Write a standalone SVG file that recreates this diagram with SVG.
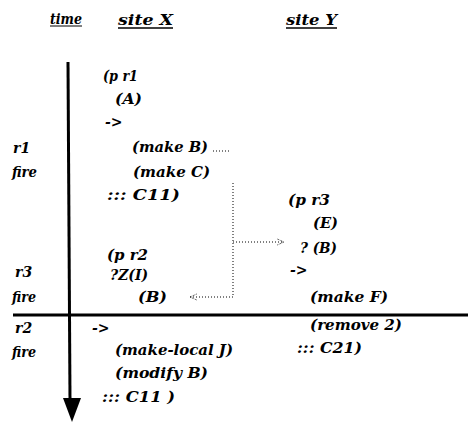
<svg xmlns="http://www.w3.org/2000/svg" width="468" height="424" viewBox="0 0 468 424" xml:space="preserve">
<style>
text{font-family:"DejaVu Serif","Liberation Serif",serif;font-weight:bold;font-style:italic;font-size:14px;fill:#000}
.hd{font-size:14px}
.dot{fill:none;stroke:#000;stroke-width:1;stroke-dasharray:1 2}
</style>
<defs>
<marker id="ah" viewBox="0 0 10 10" refX="9" refY="5" markerWidth="8" markerHeight="8" orient="auto-start-reverse" markerUnits="userSpaceOnUse">
<path d="M0,1 L9,5 L0,9" fill="none" stroke="#000" stroke-width="1" stroke-dasharray="1 1"/>
</marker>
</defs>
<rect width="468" height="424" fill="#fff"/>
<g id="headers">
<text class="hd" x="50" y="24" textLength="32" lengthAdjust="spacingAndGlyphs">time</text>
<line x1="50" y1="26" x2="82" y2="26" stroke="#000" stroke-width="1"/>
<text class="hd" x="118" y="25" textLength="55" lengthAdjust="spacingAndGlyphs">site  X</text>
<line x1="118" y1="28" x2="173" y2="28" stroke="#000" stroke-width="1.5"/>
<text class="hd" x="286" y="25" textLength="51" lengthAdjust="spacingAndGlyphs">site  Y</text>
<line x1="286" y1="28" x2="337" y2="28" stroke="#000" stroke-width="1.5"/>
</g>
<g id="axes">
<line x1="68" y1="62" x2="70" y2="400" stroke="#000" stroke-width="3"/>
<polygon points="63,398 81,398 72,422" fill="#000"/>
<line x1="13" y1="315" x2="468" y2="315" stroke="#000" stroke-width="3"/>
</g>
<g id="time-labels">
<text x="13" y="153">r1</text>
<text x="12" y="177" textLength="25" lengthAdjust="spacingAndGlyphs">fire</text>
<text x="15" y="277">r3</text>
<text x="12" y="302" textLength="24" lengthAdjust="spacingAndGlyphs">fire</text>
<text x="15" y="333">r2</text>
<text x="12" y="357" textLength="24" lengthAdjust="spacingAndGlyphs">fire</text>
</g>
<g id="rule-r1">
<text x="103" y="81" textLength="35" lengthAdjust="spacingAndGlyphs">(p r1</text>
<text x="115" y="104" textLength="27" lengthAdjust="spacingAndGlyphs">(A)</text>
<text x="105" y="127">-&gt;</text>
<text x="132" y="152" textLength="76" lengthAdjust="spacingAndGlyphs">(make  B)</text>
<text x="133" y="177" textLength="77" lengthAdjust="spacingAndGlyphs">(make  C)</text>
<text x="107" y="200" textLength="73" lengthAdjust="spacingAndGlyphs">:::  C11)</text>
</g>
<g id="rule-r2">
<text x="107" y="260" textLength="41" lengthAdjust="spacingAndGlyphs">(p r2</text>
<text x="110" y="280" textLength="38" lengthAdjust="spacingAndGlyphs">?Z(I)</text>
<text x="138" y="302" textLength="29" lengthAdjust="spacingAndGlyphs">(B)</text>
<text x="92" y="333">-&gt;</text>
<text x="115" y="355" textLength="118" lengthAdjust="spacingAndGlyphs">(make-local  J)</text>
<text x="115" y="378" textLength="93" lengthAdjust="spacingAndGlyphs">(modify  B)</text>
<text x="102" y="402" textLength="73" lengthAdjust="spacingAndGlyphs">:::  C11 )</text>
</g>
<g id="rule-r3">
<text x="288" y="205" textLength="42" lengthAdjust="spacingAndGlyphs">(p  r3</text>
<text x="313" y="228" textLength="25" lengthAdjust="spacingAndGlyphs">(E)</text>
<text x="300" y="253" textLength="37" lengthAdjust="spacingAndGlyphs">? (B)</text>
<text x="290" y="275">-&gt;</text>
<text x="310" y="302" textLength="78" lengthAdjust="spacingAndGlyphs">(make  F)</text>
<text x="310" y="330" textLength="92" lengthAdjust="spacingAndGlyphs">(remove  2)</text>
<text x="297" y="353" textLength="65" lengthAdjust="spacingAndGlyphs">:::  C21)</text>
</g>
<g id="connectors">
<path class="dot" d="M213,151 H229"/>
<path class="dot" d="M233,183 V297"/>
<path class="dot" d="M233,242 H284" marker-end="url(#ah)"/>
<path class="dot" d="M233,297 H190" marker-end="url(#ah)"/>
</g>
</svg>
